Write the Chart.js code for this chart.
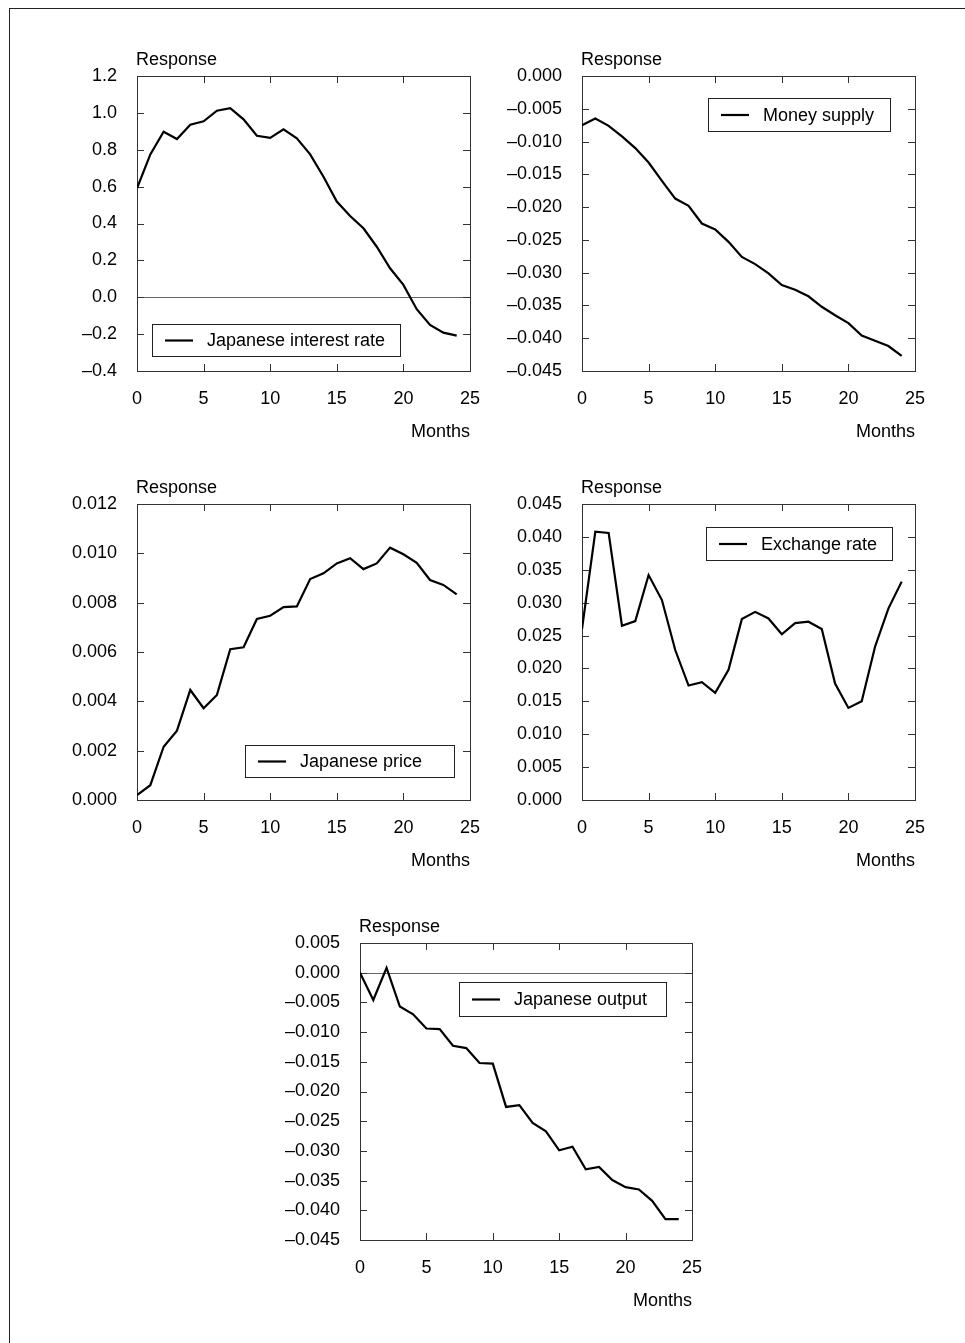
<!DOCTYPE html>
<html>
<head>
<meta charset="utf-8">
<script src="https://cdn.jsdelivr.net/npm/chart.js@4/dist/chart.umd.min.js"></script>
<style>
html,body{margin:0;padding:0;background:#fff;}
body{width:965px;height:1343px;position:relative;overflow:hidden;}
#frame{position:absolute;left:9px;top:8px;width:980px;height:1360px;border-left:1px solid #222;border-top:1px solid #222;}
canvas{position:absolute;}
</style>
</head>
<body>
<div id="frame"></div>
<canvas id="c1"></canvas>
<canvas id="c2"></canvas>
<canvas id="c3"></canvas>
<canvas id="c4"></canvas>
<canvas id="c5"></canvas>
<script>
// ---------- data ----------
const months = [0,1,2,3,4,5,6,7,8,9,10,11,12,13,14,15,16,17,18,19,20,21,22,23,24];
const xTicks = [0,5,10,15,20,25];

const interestRate = [0.591,0.775,0.898,0.858,0.936,0.954,1.012,1.026,0.965,0.876,0.864,0.911,0.862,0.775,0.654,0.519,0.441,0.374,0.274,0.157,0.067,-0.065,-0.150,-0.192,-0.208];
const moneySupply = [-0.0075,-0.0065,-0.0076,-0.0092,-0.0110,-0.0132,-0.0160,-0.0187,-0.0198,-0.0225,-0.0234,-0.0253,-0.0276,-0.0287,-0.0301,-0.0319,-0.0326,-0.0336,-0.0352,-0.0365,-0.0377,-0.0396,-0.0404,-0.0412,-0.0427];
const japanesePrice = [0.0002,0.0006,0.00216,0.00281,0.00446,0.00372,0.00426,0.00611,0.00619,0.00734,0.00747,0.00782,0.00785,0.00896,0.00919,0.00959,0.00980,0.00936,0.00959,0.01023,0.00996,0.00962,0.00892,0.00872,0.00834];
const exchangeRate = [0.0260,0.0408,0.0406,0.0265,0.0272,0.0342,0.0304,0.0228,0.0174,0.0179,0.0163,0.0198,0.0275,0.0286,0.0276,0.0252,0.0269,0.0271,0.0260,0.0177,0.0140,0.0150,0.0233,0.0291,0.0332];
const japaneseOutput = [0.0000,-0.0046,0.0008,-0.0057,-0.0070,-0.0094,-0.0095,-0.0123,-0.0127,-0.0152,-0.0153,-0.0226,-0.0223,-0.0253,-0.0267,-0.0299,-0.0293,-0.0331,-0.0327,-0.0349,-0.0361,-0.0365,-0.0384,-0.0415,-0.0415];

const yTicks1 = [-0.4,-0.2,0.0,0.2,0.4,0.6,0.8,1.0,1.2];
const yTicks2 = [-0.045,-0.040,-0.035,-0.030,-0.025,-0.020,-0.015,-0.010,-0.005,0.000];
const yTicks3 = [0.000,0.002,0.004,0.006,0.008,0.010,0.012];
const yTicks4 = [0.000,0.005,0.010,0.015,0.020,0.025,0.030,0.035,0.040,0.045];
const yTicks5 = [-0.045,-0.040,-0.035,-0.030,-0.025,-0.020,-0.015,-0.010,-0.005,0.000,0.005];

const labels = ['Japanese interest rate','Money supply','Japanese price','Exchange rate','Japanese output'];
const yTitle = 'Response';
const xTitle = 'Months';

// ---------- layout / style ----------
const FONT = '"Liberation Sans", Arial, Helvetica, sans-serif';
const FS = 18;
Chart.defaults.font.family = FONT;
Chart.defaults.font.size = FS;
Chart.defaults.color = '#000';

const PADL = 110, PADT = 40, PADR = 20, PADB = 80;

function fmt(v, d) {
  if (Math.abs(v) < 1e-12) v = 0;
  return (v < 0 ? '\u2013' : '') + Math.abs(v).toFixed(d);
}

const decor = {
  id: 'decor',
  beforeDatasetsDraw(chart, args, o) {
    const {ctx, chartArea: a, scales: {x, y}} = chart;
    ctx.save();
    if (o.zeroLine) {
      const zy = Math.round(y.getPixelForValue(0)) + 0.5;
      ctx.strokeStyle = '#666';
      ctx.lineWidth = 1;
      ctx.beginPath(); ctx.moveTo(a.left, zy); ctx.lineTo(a.right, zy); ctx.stroke();
    }
    ctx.strokeStyle = '#333';
    ctx.lineWidth = 1;
    ctx.strokeRect(a.left + 0.5, a.top + 0.5, a.right - a.left, a.bottom - a.top);
    const TL = 7;
    ctx.beginPath();
    x.ticks.forEach(t => {
      if (t.value <= x.min || t.value >= x.max) return;
      const px = Math.round(x.getPixelForValue(t.value)) + 0.5;
      ctx.moveTo(px, a.bottom); ctx.lineTo(px, a.bottom - TL);
      ctx.moveTo(px, a.top); ctx.lineTo(px, a.top + TL);
    });
    y.ticks.forEach(t => {
      if (t.value <= y.min + 1e-12 || t.value >= y.max - 1e-12) return;
      const py = Math.round(y.getPixelForValue(t.value)) + 0.5;
      ctx.moveTo(a.left, py); ctx.lineTo(a.left + TL, py);
      ctx.moveTo(a.right, py); ctx.lineTo(a.right - TL, py);
    });
    ctx.stroke();
    ctx.fillStyle = '#000';
    ctx.font = FS + 'px ' + FONT;
    ctx.textBaseline = 'alphabetic';
    ctx.textAlign = 'left';
    ctx.fillText(o.yTitle, a.left - 1, a.top - 11);
    ctx.textAlign = 'right';
    ctx.fillText(o.xTitle, a.right, a.bottom + 66);
    ctx.restore();
  },
  afterDatasetsDraw(chart, args, o) {
    const {ctx, chartArea: a} = chart;
    const L = o.legend;
    const bx = a.left + L.x, by = a.top + L.y;
    ctx.save();
    ctx.fillStyle = '#fff';
    ctx.fillRect(bx, by, L.w, L.h);
    ctx.strokeStyle = '#222';
    ctx.lineWidth = 1;
    ctx.strokeRect(bx + 0.5, by + 0.5, L.w, L.h);
    const cy = by + L.h / 2 + 0.5;
    ctx.strokeStyle = '#000';
    ctx.lineWidth = 2.2;
    ctx.beginPath(); ctx.moveTo(bx + 13, cy); ctx.lineTo(bx + 41, cy); ctx.stroke();
    ctx.fillStyle = '#000';
    ctx.font = FS + 'px ' + FONT;
    ctx.textAlign = 'left';
    ctx.textBaseline = 'middle';
    ctx.fillText(chart.data.datasets[0].label, bx + 55, cy + 1);
    ctx.restore();
  }
};

function makeChart(id, plot, values, label, yT, dec, legend, zeroLine) {
  const cv = document.getElementById(id);
  const w = PADL + plot.w + PADR, h = PADT + plot.h + PADB;
  cv.width = w; cv.height = h;
  cv.style.left = (plot.x - PADL) + 'px';
  cv.style.top = (plot.y - PADT) + 'px';
  cv.style.width = w + 'px'; cv.style.height = h + 'px';
  const yMin = yT[0], yMax = yT[yT.length - 1];
  const step = yT[1] - yT[0];
  return new Chart(cv, {
    type: 'line',
    data: {
      datasets: [{
        label: label,
        data: months.map((m, i) => ({x: m, y: values[i]})),
        borderColor: '#000',
        borderWidth: 2.2,
        pointRadius: 0,
        tension: 0,
        fill: false
      }]
    },
    options: {
      responsive: false,
      animation: false,
      devicePixelRatio: 1,
      layout: {padding: {left: 0, top: PADT, right: PADR, bottom: 0}},
      plugins: {
        legend: {display: false},
        tooltip: {enabled: false},
        decor: {yTitle: yTitle, xTitle: xTitle, legend: legend, zeroLine: zeroLine}
      },
      scales: {
        x: {
          type: 'linear',
          min: xTicks[0], max: xTicks[xTicks.length - 1],
          grid: {display: false, drawTicks: false},
          border: {display: false},
          ticks: {stepSize: 5, padding: 17, autoSkip: false, maxRotation: 0, color: '#000',
                  callback: v => xTicks.includes(v) ? String(v) : ''},
          afterFit: s => { s.height = PADB; s.paddingLeft = 0; s.paddingRight = 0; }
        },
        y: {
          type: 'linear',
          min: yMin, max: yMax,
          grid: {display: false, drawTicks: false},
          border: {display: false},
          ticks: {stepSize: step, padding: 20, autoSkip: false, color: '#000',
                  callback: v => fmt(v, dec)},
          afterFit: s => { s.width = PADL; s.paddingTop = 0; s.paddingBottom = 0; }
        }
      }
    },
    plugins: [decor]
  });
}

makeChart('c1', {x:137, y:76, w:333, h:295}, interestRate, labels[0], yTicks1, 1, {x:15, y:248, w:248, h:32}, true);
makeChart('c2', {x:582, y:76, w:333, h:295}, moneySupply, labels[1], yTicks2, 3, {x:126, y:22, w:182, h:33}, false);
makeChart('c3', {x:137, y:504, w:333, h:296}, japanesePrice, labels[2], yTicks3, 3, {x:108, y:241, w:209, h:32}, true);
makeChart('c4', {x:582, y:504, w:333, h:296}, exchangeRate, labels[3], yTicks4, 3, {x:124, y:23, w:186, h:33}, false);
makeChart('c5', {x:360, y:943, w:332, h:297}, japaneseOutput, labels[4], yTicks5, 3, {x:99, y:39, w:207, h:34}, true);
</script>
</body>
</html>
